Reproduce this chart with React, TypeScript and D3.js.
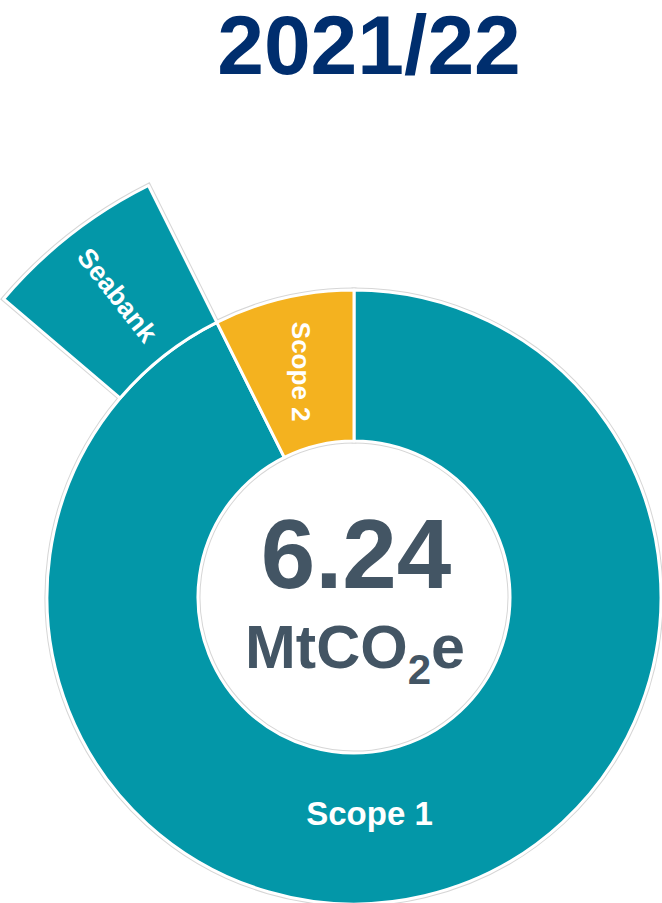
import React from "react";
import * as d3 from "d3";

const categories = ["Scope 1", "Scope 2"];
const values = [5.78, 0.46];
const subCategories = ["Seabank"];
const subValues = [0.4];
const totalLabel = "6.24";
const title = "2021/22";

const W = 662;
const H = 903;
const cx = 354;
const cy = 597;
const rInner = 156;
const rOuter = 307;
const rSubOuter = 460;
const TEAL = "#0397a8";
const YELLOW = "#f4b21f";
const colors = [TEAL, YELLOW];

export default function App() {
  const total = d3.sum(values);
  const angle = d3.scaleLinear().domain([0, total]).range([0, 2 * Math.PI]);
  const pie = d3.pie<number>().sort(null).value((d) => d).startAngle(0).endAngle(2 * Math.PI);
  const arcs = pie(values);
  const arcGen = d3.arc<any>().innerRadius(rInner).outerRadius(rOuter);
  const subEnd = angle(values[0]);
  const subStart = angle(values[0] - subValues[0]);
  const subArc = d3.arc<any>()({
    innerRadius: rOuter,
    outerRadius: rSubOuter,
    startAngle: subStart,
    endAngle: subEnd,
  } as any) as string;

  const polar = (a: number, r: number) => [Math.sin(a) * r, -Math.cos(a) * r];

  const paths = arcs.map((a, i) => ({ d: arcGen(a) as string, fill: colors[i] }));
  paths.push({ d: subArc, fill: TEAL });

  const s1 = polar(angle(values[0] * 0.5) + 0.16, 217);
  const s2mid = (arcs[1].startAngle + arcs[1].endAngle) / 2;
  const s2 = polar(s2mid, (rInner + rOuter) / 2);
  const sbmid = (subStart + subEnd) / 2;
  const sb = polar(sbmid, (rOuter + rSubOuter) / 2);
  const sbRot = (sbmid * 180) / Math.PI + 180 - 90;

  const font = "'Liberation Sans', Arial, sans-serif";

  return (
    <svg width={W} height={H} style={{ position: "absolute", left: 0, top: 0 }} fontFamily={font}>
      <rect width={W} height={H} fill="#fff" />
      <text x={369} y={74} textAnchor="middle" fontSize={84} fontWeight="bold" fill="#002e6e">
        {title}
      </text>
      <g transform={`translate(${cx},${cy})`}>
        {paths.map((p, i) => (
          <path key={"g" + i} d={p.d} fill="none" stroke="#d6d6d6" strokeWidth={5} />
        ))}
        {paths.map((p, i) => (
          <path key={"p" + i} d={p.d} fill={p.fill} stroke="#fff" strokeWidth={3} strokeLinejoin="round" />
        ))}
        <text x={s1[0]} y={s1[1]} dy="0.35em" textAnchor="middle" fontSize={33} fontWeight="bold" fill="#fff">
          {categories[0]}
        </text>
        <text
          transform={`translate(${s2[0]},${s2[1]}) rotate(90)`}
          dy="0.35em"
          textAnchor="middle"
          fontSize={26}
          fontWeight="bold"
          fill="#fff"
        >
          {categories[1]}
        </text>
        <text
          transform={`translate(${sb[0]},${sb[1]}) rotate(${sbRot})`}
          dy="0.35em"
          textAnchor="middle"
          fontSize={27}
          fontWeight="bold"
          fill="#fff"
        >
          {subCategories[0]}
        </text>
        <text x={2} y={-9} textAnchor="middle" fontSize={98} fontWeight="bold" fill="#435564">
          {totalLabel}
        </text>
        <text x={1} y={71} textAnchor="middle" fontSize={61} fontWeight="bold" fill="#435564">
          MtCO
          <tspan fontSize={42} dy={16}>2</tspan>
          <tspan dy={-16}>e</tspan>
        </text>
      </g>
    </svg>
  );
}
